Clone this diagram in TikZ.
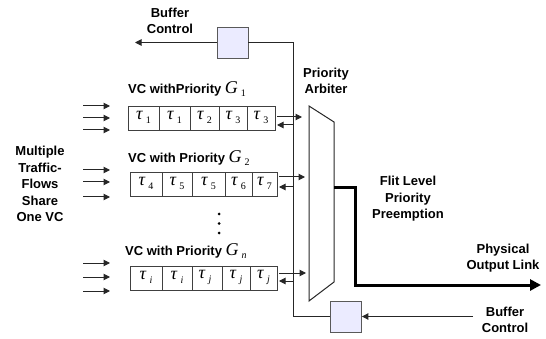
\documentclass[tikz,border=0pt]{standalone}
\usepackage{fontspec}
\setmainfont{Liberation Sans}
\newfontfamily\serifit{Liberation Serif}
\usetikzlibrary{arrows.meta}
\begin{document}
\begin{tikzpicture}[x=1pt,y=-1pt,
  lbl/.style={font=\fontsize{13}{16.5}\selectfont\bfseries,align=center,inner sep=0},
  ln/.style={draw=black!85,line width=1pt},
  arr/.style={ln,-{Triangle[length=6.5pt,width=6.5pt]}},
  ctrl/.style={draw=black!65,line width=0.9pt,fill=blue!8!white,minimum width=31pt,minimum height=31pt,inner sep=0},
  cell/.style={draw=black!75,line width=0.8pt,minimum height=24pt,inner sep=0,anchor=west},
  tau/.style={font=\serifit\fontsize{18}{18}\selectfont,inner sep=0}
]
\useasboundingbox (0,0) rectangle (546,339);
\newcommand{\tsub}[1]{\textit{τ}\,\raisebox{-4pt}{\fontsize{10}{10}\selectfont #1}}
% buffer control boxes
\node[ctrl] (bt) at (232.5,42.5) {};
\node[ctrl] (bb) at (346,316.5) {};
\coordinate (btl) at (135,42.5);
\coordinate (vtop) at (293,42.5);
\coordinate (vbot) at (293,316.5);
\coordinate (bbr) at (473,316.5);
\draw[arr] (bt.west) -- (btl);
\draw[ln] (bt.east) -- (vtop) -- (vbot) -- (bb.west);
\draw[arr] (bbr) -- (bb.east);
\node[lbl] (btt) at (170,21) {Buffer\\Control};
\node[lbl] (bbt) at (505,320) {Buffer\\Control};
% arbiter
\draw[ln,line width=1pt] (309,106) coordinate (a1) -- (334,122) -- (334,282) -- (309,301) -- cycle;
\node[lbl] (arbt) at (326,81) {Priority\\Arbiter};
\coordinate (aout) at (334,188);
\coordinate (endout) at (541,285);
\draw[line width=3pt,-{Triangle[length=11pt,width=11pt]}] (aout) -- (355,188) -- (355,285) -- (endout);
\node[lbl] (flit) at (408,199) {Flit Level\\Priority\\Preemption};
\node[lbl] (phys) at (503,258) {Physical\\Output Link};
\node[lbl] (mult) at (40,184) {Multiple\\Traffic-\\Flows\\Share\\One VC};
% queue G1
\foreach \x/\w in {128/31,159/31,190/29,219/28,247/28}
  \node[cell,minimum width=\w pt] at (\x,118) {};
\node[tau] at (143.5,117) {\tsub{1}};
\node[tau] at (174.5,117) {\tsub{1}};
\node[tau] at (204.5,117) {\tsub{2}};
\node[tau] at (233,117) {\tsub{3}};
\node[tau] at (261,117) {\tsub{3}};
% queue G2
\foreach \x/\w in {130/32,162/30,192/33,225/27,252/25}
  \node[cell,minimum width=\w pt] at (\x,184) {};
\node[tau] at (146,183) {\tsub{4}};
\node[tau] at (177,183) {\tsub{5}};
\node[tau] at (208.5,183) {\tsub{5}};
\node[tau] at (238.5,183) {\tsub{6}};
\node[tau] at (264.5,183) {\tsub{7}};
% queue Gn
\foreach \x/\w in {130/32,162/30,192/30,222/28,250/27}
  \node[cell,minimum width=\w pt] at (\x,278) {};
\node[tau] at (146,277) {\tsub{\textit{i}}};
\node[tau] at (177,277) {\tsub{\textit{i}}};
\node[tau] at (205,277) {\tsub{\textit{j}}};
\node[tau] at (236,277) {\tsub{\textit{j}}};
\node[tau] at (263.5,277) {\tsub{\textit{j}}};
% VC labels
\node[lbl,anchor=base west] (l1) at (128,94) {VC withPriority \textmd{\serifit\fontsize{18}{18}\selectfont\textit{G}\,\raisebox{-3pt}{\fontsize{10}{10}\selectfont 1}}};
\node[lbl,anchor=base west] (l2) at (128,163) {VC with Priority \textmd{\serifit\fontsize{18}{18}\selectfont\textit{G}\,\raisebox{-3pt}{\fontsize{10}{10}\selectfont 2}}};
\node[lbl,anchor=base west] (l3) at (125,255) {VC with Priority \textmd{\serifit\fontsize{18}{18}\selectfont\textit{G}\,\raisebox{-3pt}{\fontsize{10}{10}\selectfont\textit{n}}}};
% dots
\foreach \y in {214,223.5,233} \fill (219,\y) circle (1.5pt);
% input arrows
\foreach \y in {106,118,130,170,182,197,263,277,291}
  \draw[arr] (83,\y) -- (110,\y);
% outgoing/return arrows
\foreach \y/\yr/\xs/\xe in {117/125/277/302,177/187/279/305,273/281/279/306}{
  \draw[arr] (\xs,\y) -- (\xe,\y);
  \draw[arr] (293,\yr) -- (\xs,\yr);
}
\end{tikzpicture}
\end{document}
